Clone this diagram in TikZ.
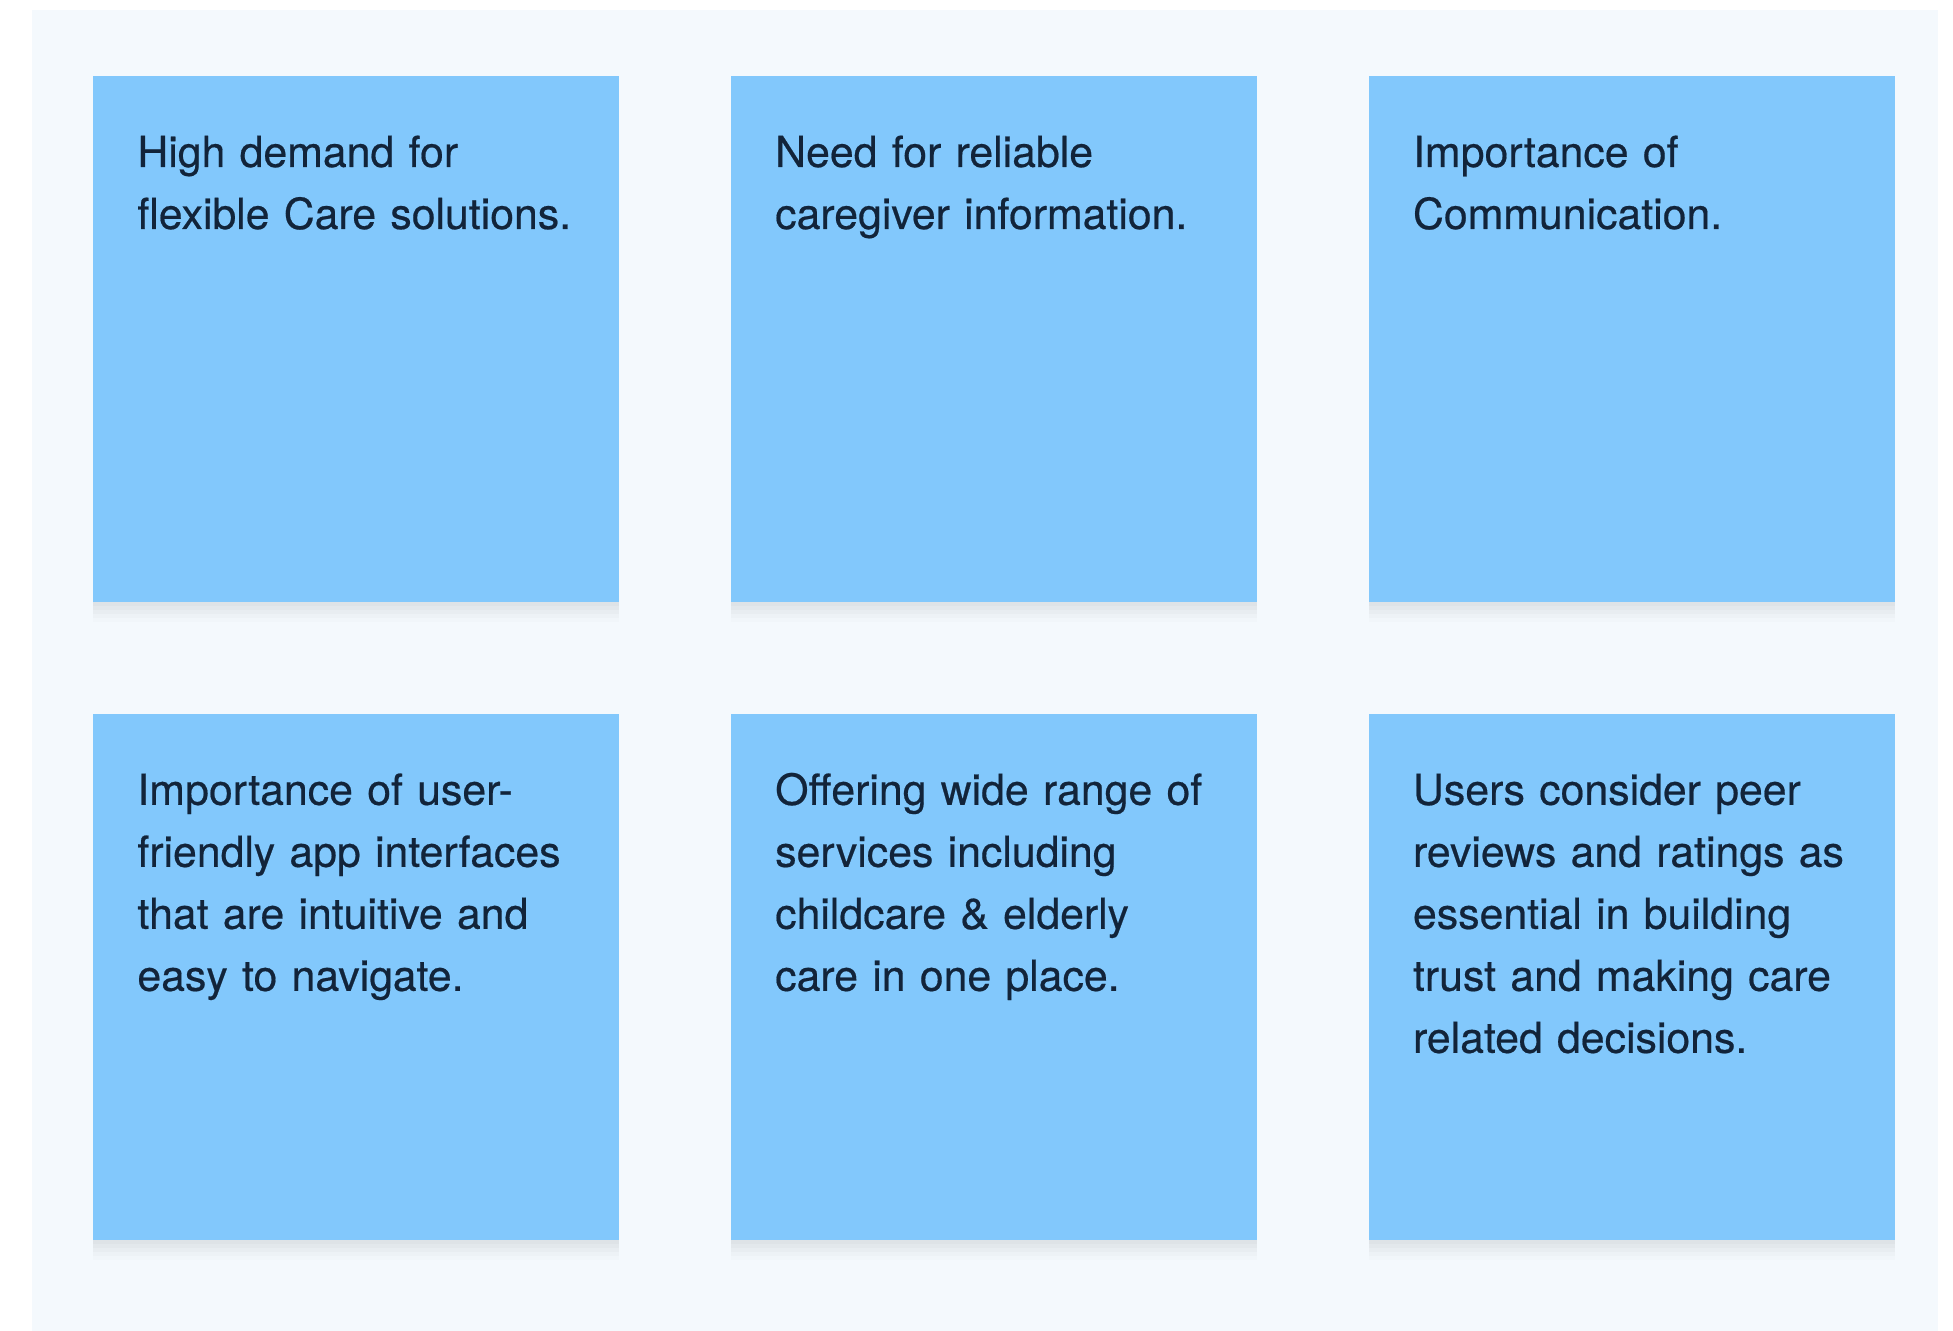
\documentclass[tikz,border=0pt]{standalone}
\usepackage{fontspec}
\setmainfont{TeX Gyre Heros}
\newfontfamily\notefont[FakeBold=0.45]{TeX Gyre Heros}
\usepackage{tikz}
\usetikzlibrary{positioning,calc}

\definecolor{panelbg}{HTML}{F4F9FD}
\definecolor{cardblue}{HTML}{82C8FC}
\definecolor{noteink}{HTML}{12243A}

\tikzset{
  card/.style={rectangle, fill=cardblue, inner sep=0pt, minimum width=263pt, minimum height=263pt,
    preaction={fill=black, fill opacity=0.02, transform canvas={yshift=-2pt}},
    preaction={fill=black, fill opacity=0.02, transform canvas={yshift=-4pt}},
    preaction={fill=black, fill opacity=0.018, transform canvas={yshift=-6pt}},
    preaction={fill=black, fill opacity=0.014, transform canvas={yshift=-8pt}},
    preaction={fill=black, fill opacity=0.01, transform canvas={yshift=-10pt}}},
  note/.style={anchor=base west, inner sep=0pt, text width=250pt, align=left, text=noteink,
    font=\notefont\fontsize{21.4pt}{31pt}\selectfont}
}

\begin{document}
\begin{tikzpicture}[x=0.5pt,y=0.5pt,yscale=-1,xscale=1]
\path[use as bounding box] (0,0) rectangle (1953,1331);
\fill[panelbg] (32,10) rectangle (1938,1331);

% Card
\node [card, anchor=north west] (c1) at (93,76) {};
% Card
\node [card, right=55.5pt of c1] (c2) {};
% Card
\node [card, right=55.5pt of c2] (c3) {};
% Card
\node [card, below=55.5pt of c1] (c4) {};
% Card
\node [card, right=55.5pt of c4] (c5) {};
% Card
\node [card, right=55.5pt of c5] (c6) {};

% Text Node
\node [note] (t1) at ($(c1.north west)+(44,91)$) {High demand for\\flexible Care solutions.};
% Text Node
\node [note] (t2) at ($(c2.north west)+(44,91)$) {Need for reliable\\caregiver information.};
% Text Node
\node [note] (t3) at ($(c3.north west)+(44,91)$) {Importance of\\Communication.};
% Text Node
\node [note] (t4) at ($(c4.north west)+(44,91)$) {Importance of user-\\friendly app interfaces\\that are intuitive and\\easy to navigate.};
% Text Node
\node [note] (t5) at ($(c5.north west)+(44,91)$) {Offering wide range of\\services including\\childcare \& elderly\\care in one place.};
% Text Node
\node [note] (t6) at ($(c6.north west)+(44,91)$) {Users consider peer\\reviews and ratings as\\essential in building\\trust and making care\\related decisions.};

\end{tikzpicture}
\end{document}
